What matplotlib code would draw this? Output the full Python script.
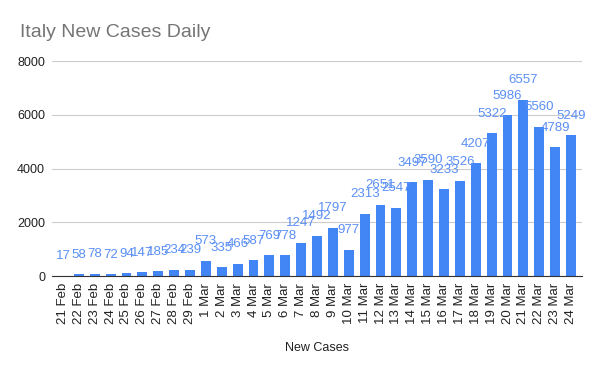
import matplotlib
matplotlib.use("Agg")
import matplotlib.pyplot as plt
import numpy as np

plt.rcParams['font.family'] = ['Liberation Sans', 'DejaVu Sans']

dates = ["21 Feb", "22 Feb", "23 Feb", "24 Feb", "25 Feb", "26 Feb", "27 Feb", "28 Feb", "29 Feb",
         "1 Mar", "2 Mar", "3 Mar", "4 Mar", "5 Mar", "6 Mar", "7 Mar", "8 Mar", "9 Mar", "10 Mar",
         "11 Mar", "12 Mar", "13 Mar", "14 Mar", "15 Mar", "16 Mar", "17 Mar", "18 Mar", "19 Mar",
         "20 Mar", "21 Mar", "22 Mar", "23 Mar", "24 Mar"]
new_cases = [17, 58, 78, 72, 94, 147, 185, 234, 239, 573, 335, 466, 587, 769, 778, 1247, 1492,
             1797, 977, 2313, 2651, 2547, 3497, 3590, 3233, 3526, 4207, 5322, 5986, 6557, 5560,
             4789, 5249]
yticks = [0, 2000, 4000, 6000, 8000]

blue = "#4285F4"

fig = plt.figure(figsize=(6, 3.71), dpi=100)
ax = fig.add_axes([0.0867, 0.256, 0.8833, 0.5795])

x = np.arange(len(dates))
ax.bar(x, new_cases, width=0.62, color=blue, zorder=3)

for xi, v in zip(x, new_cases):
    ax.annotate(str(v), (xi, v), xytext=(0, 14), textcoords="offset points",
                ha="center", va="center", fontsize=9.5, color="#5a8ff5", zorder=4)

ax.set_xlim(-0.69, len(dates) - 1 + 0.69)
ax.set_ylim(0, 8000)
ax.set_yticks(yticks)
ax.set_yticklabels([str(t) for t in yticks], fontsize=9, color="#222222")
ax.set_xticks(x)
ax.set_xticklabels(dates, rotation=90, fontsize=9.5, color="#222222")
ax.tick_params(length=0, pad=5)
ax.grid(axis="y", color="#cccccc", lw=0.8, zorder=0)
for s in ["top", "right", "left"]:
    ax.spines[s].set_visible(False)
ax.spines["bottom"].set_color("#333333")
ax.spines["bottom"].set_zorder(5)

ax.set_xlabel("New Cases", fontsize=9, color="#222222", labelpad=13)
fig.text(0.033, 0.913, "Italy New Cases Daily", fontsize=14, color="#757575",
         ha="left", va="center")

fig.savefig("out.png", dpi=100, facecolor="white")
